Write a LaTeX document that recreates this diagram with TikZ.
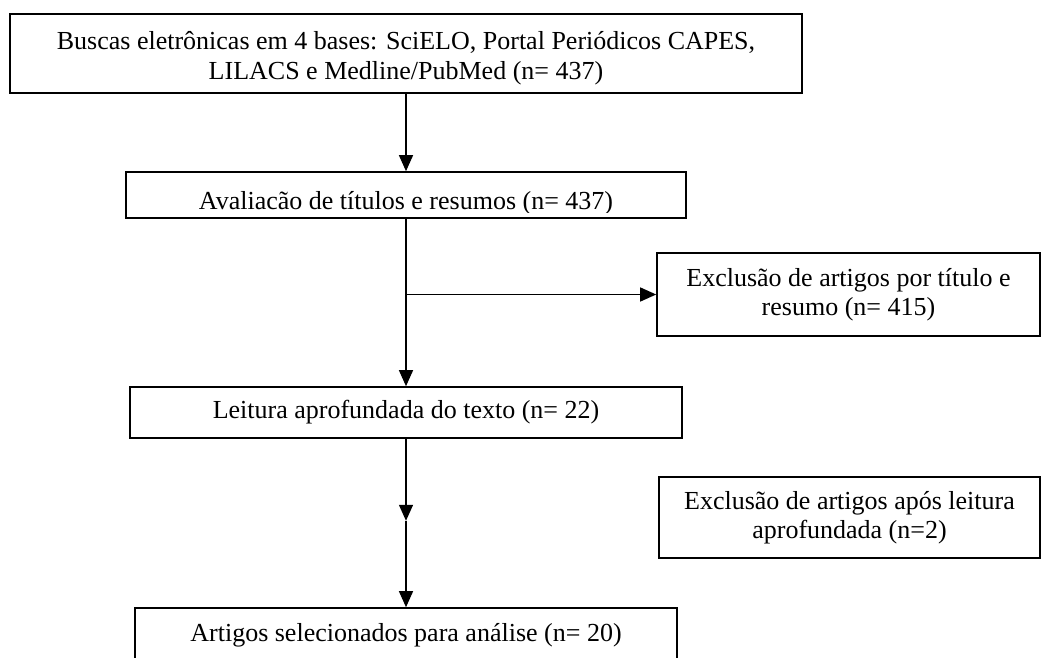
\documentclass[tikz,border=0pt]{standalone}
\usepackage{fontspec}
\setmainfont{Liberation Serif}
\usetikzlibrary{arrows.meta}
\tikzset{% styles for the boxes and arrows
  caixa/.style={draw, line width=1.6pt, inner sep=0pt, align=center,
    font=\fontsize{26}{29.5}\selectfont},
  texto/.style={inner sep=0pt, align=center, font=\fontsize{26}{29.5}\selectfont},
  seta/.style={line width=1.3pt, -{Triangle[length=16pt,width=14pt]}}
}

\begin{document}
\begin{tikzpicture}[x=1pt, y=-1pt]
\path[use as bounding box, clip] (0,0) rectangle (1042,658);

% main column of boxes
\node[caixa, minimum width=792, minimum height=79] (busca) at (406,53.5) {};
\node[texto] (buscatxt) at ([yshift=-4.5pt]busca.center)
  {Buscas eletrônicas em 4 bases: SciELO, Portal Periódicos CAPES,\\
   LILACS e Medline/PubMed (n= 437)};
\node[caixa, minimum width=560, minimum height=46] (avalia) at (406,195) {};
\begin{scope}
\clip (avalia.north west) rectangle ([yshift=6.5pt]avalia.south east);
\node[texto, anchor=base] (avaliatxt)
  at ([yshift=9pt]avalia.south) {Avaliacão de títulos e resumos (n= 437)};
\end{scope}
\node[caixa, minimum width=552, minimum height=51] (leitura) at (406,412.5)
  {Leitura aprofundada do texto (n= 22)};
\node[caixa, minimum width=542, minimum height=54] (final) at (406,635)
  {Artigos selecionados para análise (n= 20)};

% boxes on the right
\node[caixa, minimum width=383, minimum height=83] (exclA) at (848.5,294.5)
  {Exclusão de artigos por título e\\ resumo (n= 415)};
\node[caixa, minimum width=381, minimum height=81] (exclB) at (849.5,517.5)
  {Exclusão de artigos após leitura\\ aprofundada (n=2)};

% arrows
\coordinate (ramo) at (avalia.south |- exclA.west);
\path (leitura.south) ++(0,82) coordinate (meio);
\draw[seta] (busca) -- (avalia);
\draw[seta] (avalia) -- (leitura);
\draw[seta] (ramo) -- (exclA);
\draw[seta] (leitura) -- (meio);
\draw[seta] (meio) -- (final);
\end{tikzpicture}
\end{document}
